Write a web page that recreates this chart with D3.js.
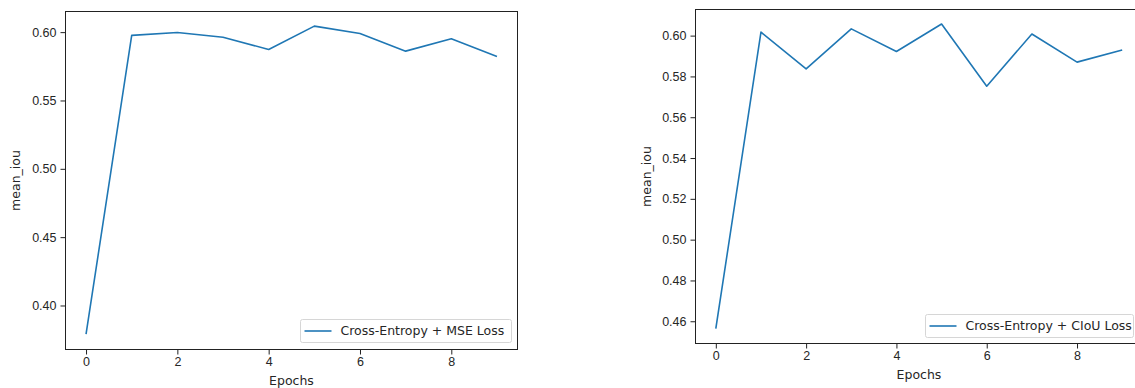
<!doctype html>
<html>
<head>
<meta charset="utf-8">
<script src="https://cdnjs.cloudflare.com/ajax/libs/d3/7.8.5/d3.min.js"></script>
<style>
  body { margin: 0; background: #fff; overflow: hidden; }
  svg { display: block; font-family: "DejaVu Sans", sans-serif; }
  .tick text { font-size: 12.5px; fill: #262626; }
  .tick line { stroke: #222; }
  .domain { display: none; }
</style>
</head>
<body>
<script>
// epochs and mean IoU per run
var epochs = [0, 1, 2, 3, 4, 5, 6, 7, 8, 9];
var mseIou  = [0.379, 0.5976, 0.5997, 0.5963, 0.5873, 0.6044, 0.5990, 0.5861, 0.5951, 0.5822];
var ciouIou = [0.4564, 0.6017, 0.5837, 0.6033, 0.5922, 0.6057, 0.5752, 0.6008, 0.5870, 0.5930];

var xTicks = [0, 2, 4, 6, 8];
var leftYTicks  = [0.40, 0.45, 0.50, 0.55, 0.60];
var rightYTicks = [0.46, 0.48, 0.50, 0.52, 0.54, 0.56, 0.58, 0.60];

var legendNames = ["Cross-Entropy + MSE Loss", "Cross-Entropy + CIoU Loss"];

var svg = d3.select("body").append("svg")
  .attr("width", 1135)
  .attr("height", 388);

// draw one panel; box = pixel edges of the axes
function panel(values, yTicks, yDomain, box, name, legendBox) {
  var g = svg.append("g");

  var x = d3.scaleLinear().domain([-0.45, 9.45]).range([box.left, box.right]);
  var y = d3.scaleLinear().domain(yDomain).range([box.bottom, box.top]);

  // x axis
  g.append("g")
    .attr("transform", "translate(0," + box.bottom + ")")
    .call(d3.axisBottom(x).tickValues(xTicks).tickSize(5).tickPadding(3).tickFormat(d3.format("d")));

  // y axis
  g.append("g")
    .attr("transform", "translate(" + box.left + ",0)")
    .call(d3.axisLeft(y).tickValues(yTicks).tickSize(5).tickPadding(4).tickFormat(d3.format(".2f")));

  // frame
  g.append("rect")
    .attr("x", box.left)
    .attr("y", box.top)
    .attr("width", box.right - box.left)
    .attr("height", box.bottom - box.top)
    .attr("fill", "none")
    .attr("stroke", "#222")
    .attr("stroke-width", 1);

  var line = d3.line()
    .x(function(d, i) { return x(epochs[i]); })
    .y(function(d) { return y(d); });

  g.append("path")
    .datum(values)
    .attr("d", line)
    .attr("fill", "none")
    .attr("stroke", "#1f77b4")
    .attr("stroke-width", 1.6)
    .attr("stroke-linejoin", "round");

  // axis labels
  g.append("text")
    .attr("x", (box.left + box.right) / 2)
    .attr("y", box.bottom + 35)
    .attr("text-anchor", "middle")
    .style("font-size", "12.5px")
    .style("fill", "#262626")
    .text("Epochs");

  g.append("text")
    .attr("transform", "translate(" + box.yLabelX + "," + ((box.top + box.bottom) / 2) + ") rotate(-90)")
    .attr("text-anchor", "middle")
    .attr("dy", "0.35em")
    .style("font-size", "12.5px")
    .style("fill", "#262626")
    .text("mean_iou");

  // legend
  var lg = g.append("g");
  lg.append("rect")
    .attr("x", legendBox.x)
    .attr("y", legendBox.y)
    .attr("width", legendBox.w)
    .attr("height", 23)
    .attr("rx", 2)
    .attr("fill", "#fff")
    .attr("fill-opacity", 0.8)
    .attr("stroke", "#d6d6d6");
  lg.append("line")
    .attr("x1", legendBox.x + 4)
    .attr("x2", legendBox.x + 31)
    .attr("y1", legendBox.y + 11.5)
    .attr("y2", legendBox.y + 11.5)
    .attr("stroke", "#1f77b4")
    .attr("stroke-width", 1.6);
  lg.append("text")
    .attr("x", legendBox.x + 40)
    .attr("y", legendBox.y + 11.5)
    .attr("dy", "0.35em")
    .style("font-size", "12.5px")
    .style("fill", "#262626")
    .text(name);
}

panel(mseIou, leftYTicks, [0.3678, 0.6151],
  {left: 65.5, right: 517.5, top: 11.5, bottom: 349.5, yLabelX: 16},
  legendNames[0], {x: 300.5, y: 319.5, w: 211});

panel(ciouIou, rightYTicks, [0.4491, 0.6128],
  {left: 695.5, right: 1142.5, top: 9.5, bottom: 343.5, yLabelX: 647},
  legendNames[1], {x: 925.5, y: 314.5, w: 208});
</script>
</body>
</html>
